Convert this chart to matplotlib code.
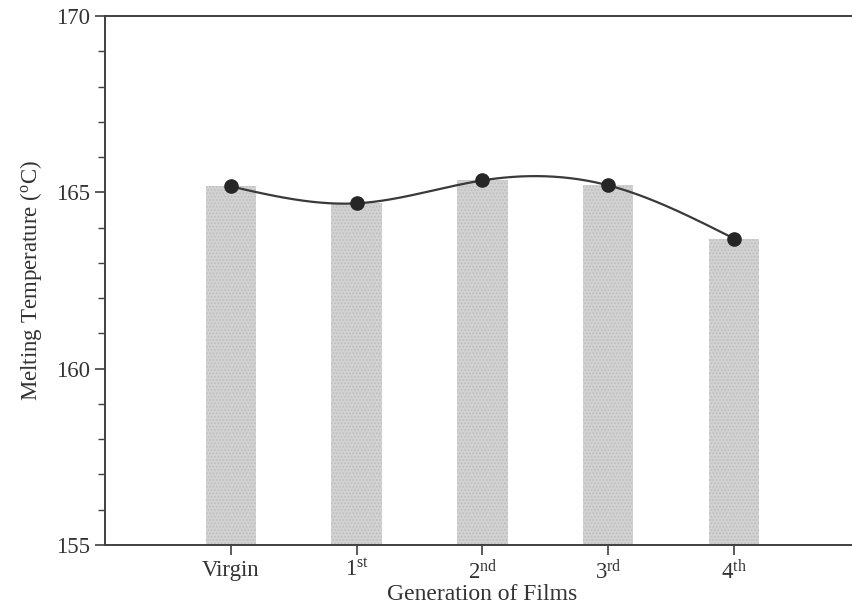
import matplotlib.pyplot as plt
import numpy as np

plt.rcParams['font.family'] = ['Liberation Serif', 'DejaVu Serif']
plt.rcParams['mathtext.fontset'] = 'custom'
plt.rcParams['mathtext.rm'] = 'Liberation Serif'
plt.rcParams['mathtext.it'] = 'Liberation Serif'
plt.rcParams['hatch.linewidth'] = 0.8

generations = ['Virgin', r'1$^{\mathrm{st}}$', r'2$^{\mathrm{nd}}$',
               r'3$^{\mathrm{rd}}$', r'4$^{\mathrm{th}}$']
melting_temp = [165.17, 164.69, 165.34, 165.20, 163.69]


def natural_spline(x, y, xs):
    # plain natural cubic spline, good enough for a smooth guide line
    x = np.asarray(x, float)
    y = np.asarray(y, float)
    n = len(x)
    h = np.diff(x)
    A = np.zeros((n, n))
    b = np.zeros(n)
    A[0, 0] = 1.0
    A[-1, -1] = 1.0
    for i in range(1, n - 1):
        A[i, i - 1] = h[i - 1]
        A[i, i] = 2 * (h[i - 1] + h[i])
        A[i, i + 1] = h[i]
        b[i] = 3 * ((y[i + 1] - y[i]) / h[i] - (y[i] - y[i - 1]) / h[i - 1])
    c = np.linalg.solve(A, b)
    ys = []
    for t in xs:
        i = min(np.searchsorted(x, t) - 1, n - 2)
        i = max(i, 0)
        dx = t - x[i]
        bi = (y[i + 1] - y[i]) / h[i] - h[i] * (2 * c[i] + c[i + 1]) / 3
        di = (c[i + 1] - c[i]) / (3 * h[i])
        ys.append(y[i] + bi * dx + c[i] * dx ** 2 + di * dx ** 3)
    return np.array(ys)


fig = plt.figure(figsize=(8.52, 6.10), dpi=100)
ax = fig.add_axes([0.1232, 0.1066, 0.886, 0.867])

pos = np.arange(len(generations))
ax.bar(pos, np.array(melting_temp) - 155, bottom=155, width=0.4,
       color='#d2d2d2', edgecolor='#bdbdbd', hatch='.....', linewidth=0,
       zorder=1)

xs = np.linspace(pos[0], pos[-1], 300)
ax.plot(xs, natural_spline(pos, melting_temp, xs), color='#3a3a3a',
        linewidth=1.6, zorder=2)
ax.plot(pos, melting_temp, 'o', color='#262626', markersize=9.5, zorder=3)

ax.set_xlim(-1, 5)
ax.set_ylim(155, 170)
ax.set_xticks(pos)
ax.set_xticklabels(generations)
ax.set_yticks([155, 160, 165, 170])
ax.set_yticks(np.arange(155, 171, 1), minor=True)

for side in ['left', 'bottom', 'top']:
    ax.spines[side].set_color('#404040')
    ax.spines[side].set_linewidth(1.4)
ax.spines['right'].set_visible(False)

ax.tick_params(axis='both', which='major', length=7, width=1.2,
               color='#404040', labelsize=16.5, labelcolor='#333333')
ax.tick_params(axis='y', which='minor', length=5, width=1.0, color='#404040')
ax.tick_params(axis='x', which='minor', length=0)

ax.set_xlabel('Generation of Films', fontsize=17, color='#333333', labelpad=0)
ax.set_ylabel(r'Melting Temperature ($^{\mathrm{o}}$C)', fontsize=16.5,
              color='#333333', labelpad=9)

plt.savefig('out.png', dpi=100)
